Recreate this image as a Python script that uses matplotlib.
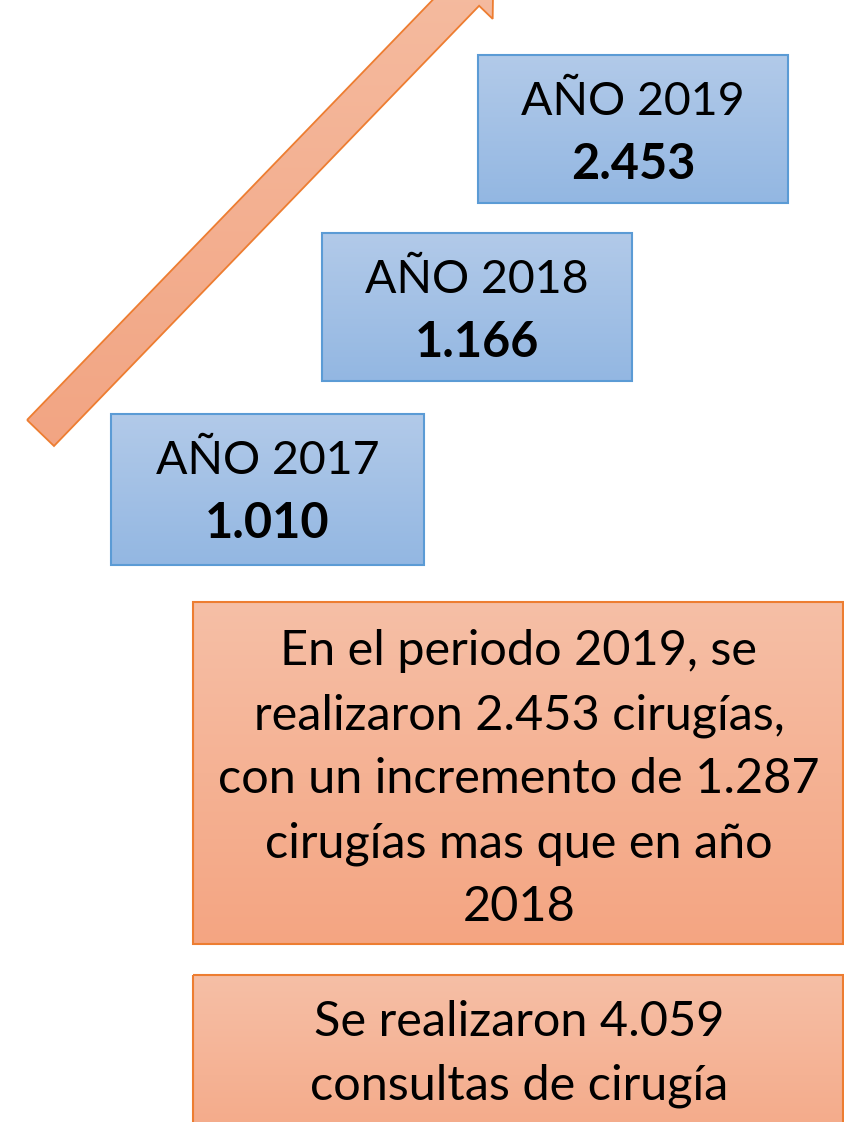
import matplotlib
matplotlib.use("Agg")
import matplotlib.pyplot as plt
import numpy as np
from matplotlib.patches import Rectangle, Polygon
from matplotlib.colors import LinearSegmentedColormap

# ---- data ----
years = ["2017", "2018", "2019"]
values = ["1.010", "1.166", "2.453"]
summary_lines = ["En el periodo 2019, se", "realizaron 2.453 cirugías,",
                 "con un incremento de 1.287", "cirugías mas que en año", "2018"]
consult_lines = ["Se realizaron 4.059", "consultas de cirugía"]

FONT = "Lato"
W, H = 844, 1122
fig = plt.figure(figsize=(W / 100, H / 100), dpi=100)
ax = fig.add_axes([0, 0, 1, 1])
ax.set_xlim(0, W)
ax.set_ylim(H, 0)
ax.axis("off")

def grad_patch(patch, top, bottom, extent):
    ax.add_patch(patch)
    cmap = LinearSegmentedColormap.from_list("g", [top, bottom])
    x0, x1, y0, y1 = extent
    im = ax.imshow(np.linspace(0, 1, 256).reshape(-1, 1), cmap=cmap, aspect="auto",
                   extent=(x0, x1, y1, y0), zorder=patch.get_zorder() - 0.1,
                   interpolation="bilinear")
    im.set_clip_path(patch)

# ---- arrow ----
ang = np.deg2rad(46)
d = np.array([np.cos(ang), -np.sin(ang)])
n = np.array([np.sin(ang), np.cos(ang)])
c0 = np.array([40.5, 433.0])
hw, hhw, shaft_len, head_len = 18.75, 37.6, 612.0, 40.0
pts = [c0 - hw * n, c0 + hw * n,
       c0 + shaft_len * d + hw * n, c0 + shaft_len * d + hhw * n,
       c0 + (shaft_len + head_len) * d,
       c0 + shaft_len * d - hhw * n, c0 + shaft_len * d - hw * n]
arrow = Polygon(pts, closed=True, facecolor="none", edgecolor="#ED7D31", lw=1.3, zorder=3)
grad_patch(arrow, "#F5BDA2", "#F2A482", (0, 520, -60, 460))

# ---- year boxes ----
boxes = [(111, 414, 313, 151), (322, 233, 310, 148), (478, 55, 310, 148)]
for (x, y, w, h), yr, val in zip(boxes, years, values):
    r = Rectangle((x, y), w, h, facecolor="none", edgecolor="#5B9BD5", lw=1.5, zorder=3)
    grad_patch(r, "#B2CAE9", "#93B7E2", (x, x + w, y, y + h))
    cx = x + w / 2
    ax.text(cx, y + 60, f"AÑO {yr}", ha="center", va="baseline", fontsize=33.5,
            family=FONT, color="black", zorder=4)
    ax.text(cx, y + 124, val, ha="center", va="baseline", fontsize=35,
            family=FONT, fontweight="bold", color="black", zorder=4)

# ---- summary boxes ----
r = Rectangle((193, 602), 650, 342, facecolor="none", edgecolor="#ED7D31", lw=1.5, zorder=3)
grad_patch(r, "#F6BFA6", "#F4A582", (193, 843, 602, 944))
for i, line in enumerate(summary_lines):
    ax.text(519, 665 + 64 * i, line, ha="center", va="baseline", fontsize=35,
            family=FONT, color="black", zorder=4)

r = Rectangle((193, 975), 650, 200, facecolor="none", edgecolor="#ED7D31", lw=1.5, zorder=3)
grad_patch(r, "#F6BFA6", "#F4A582", (193, 843, 975, 1175))
for i, line in enumerate(consult_lines):
    ax.text(519, 1036 + 64 * i, line, ha="center", va="baseline", fontsize=35,
            family=FONT, color="black", zorder=4)

fig.savefig("out.png", dpi=100)
